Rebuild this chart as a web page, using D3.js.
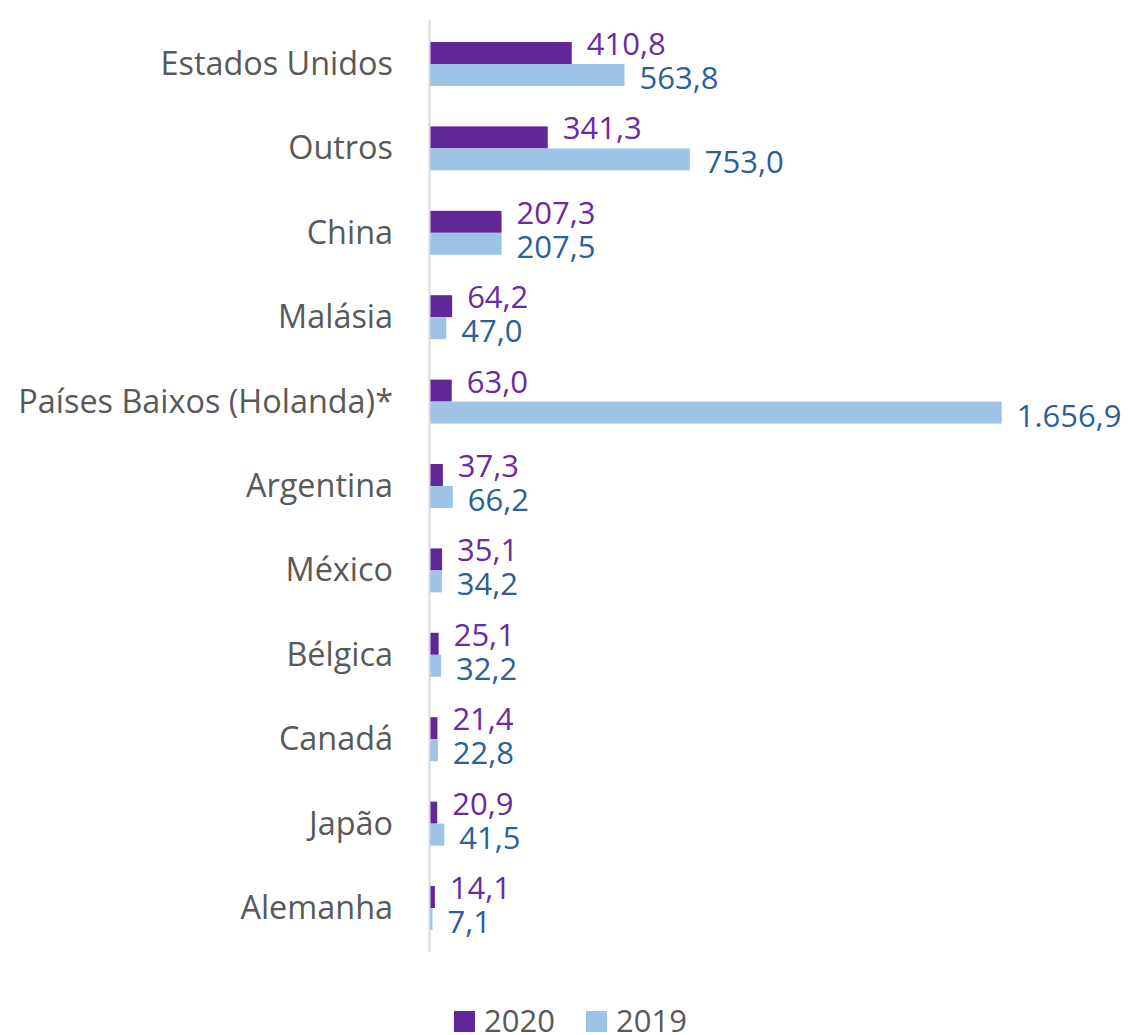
<!DOCTYPE html>
<html>
<head>
<meta charset="utf-8">
<script src="https://cdn.jsdelivr.net/npm/d3@7.9.0/dist/d3.min.js"></script>
<style>
  body { margin: 0; background: #fff; }
  svg text { font-family: "Open Sans", "Noto Sans", sans-serif; }
</style>
</head>
<body>
<div id="chart"></div>
<script>
// Data
const countries = ['Estados Unidos', 'Outros', 'China', 'Malásia', 'Países Baixos (Holanda)*',
  'Argentina', 'México', 'Bélgica', 'Canadá', 'Japão', 'Alemanha'];
const values2020 = [410.8, 341.3, 207.3, 64.2, 63.0, 37.3, 35.1, 25.1, 21.4, 20.9, 14.1];
const values2019 = [563.8, 753.0, 207.5, 47.0, 1656.9, 66.2, 34.2, 32.2, 22.8, 41.5, 7.1];
const seriesNames = ['2020', '2019'];

const colors = { '2020': '#612697', '2019': '#9dc3e6' };
const labelColors = { '2020': '#6a2c9e', '2019': '#2d5f99' };

const width = 1128;
const height = 1035;

const rows = countries.map((c, i) => ({ name: c, '2020': values2020[i], '2019': values2019[i] }));

const svg = d3.select('#chart')
  .append('svg')
  .attr('width', width)
  .attr('height', height);

// scales
const x = d3.scaleLinear()
  .domain([0, 1656.9])
  .range([430, 1001.7]);

const y = d3.scaleBand()
  .domain(countries)
  .range([21.8, 950.2])
  .paddingInner(0.479)
  .paddingOuter(0.2395);

const ySub = d3.scaleBand()
  .domain(seriesNames)
  .range([0, y.bandwidth()]);

// pt-BR number format: 1.656,9
const fmt = v => {
  const s = d3.format(',.1f')(v);
  return s.replace(/,/g, '#').replace('.', ',').replace(/#/g, '.');
};

// bars
const groups = svg.selectAll('.group')
  .data(rows)
  .enter()
  .append('g')
  .attr('class', 'group')
  .attr('transform', d => `translate(0,${y(d.name)})`);

groups.selectAll('rect')
  .data(d => seriesNames.map(k => ({ key: k, value: d[k] })))
  .enter()
  .append('rect')
  .attr('x', x(0))
  .attr('y', d => ySub(d.key))
  .attr('width', d => x(d.value) - x(0))
  .attr('height', ySub.bandwidth())
  .attr('fill', d => colors[d.key]);

// value labels
groups.selectAll('.val')
  .data(d => seriesNames.map(k => ({ key: k, value: d[k] })))
  .enter()
  .append('text')
  .attr('class', 'val')
  .attr('x', d => x(d.value) + 15)
  .attr('y', d => d.key === '2020' ? y.bandwidth() / 2 - 9 : y.bandwidth() / 2 + 25)
  .attr('fill', d => labelColors[d.key])
  .style('font-size', '31px')
  .text(d => fmt(d.value));

// axis line
svg.append('line')
  .attr('x1', 429.5).attr('x2', 429.5)
  .attr('y1', 20).attr('y2', 952)
  .attr('stroke', '#d9d9d9')
  .attr('stroke-width', 2);

// category labels
svg.selectAll('.cat')
  .data(countries)
  .enter()
  .append('text')
  .attr('class', 'cat')
  .attr('x', 393)
  .attr('y', d => y(d) + y.bandwidth() / 2 + 11)
  .attr('text-anchor', 'end')
  .attr('fill', '#595959')
  .style('font-size', '32.4px')
  .text(d => d);

// legend
const legend = svg.append('g')
  .attr('transform', 'translate(454,1011)');

const legendX = { '2020': 0, '2019': 132 };

legend.selectAll('rect')
  .data(seriesNames)
  .enter()
  .append('rect')
  .attr('x', d => legendX[d])
  .attr('y', 0)
  .attr('width', 21)
  .attr('height', 21)
  .attr('fill', d => colors[d]);

legend.selectAll('text')
  .data(seriesNames)
  .enter()
  .append('text')
  .attr('x', d => legendX[d] + 30)
  .attr('y', 21)
  .attr('fill', '#595959')
  .style('font-size', '31px')
  .text(d => d);
</script>
</body>
</html>
